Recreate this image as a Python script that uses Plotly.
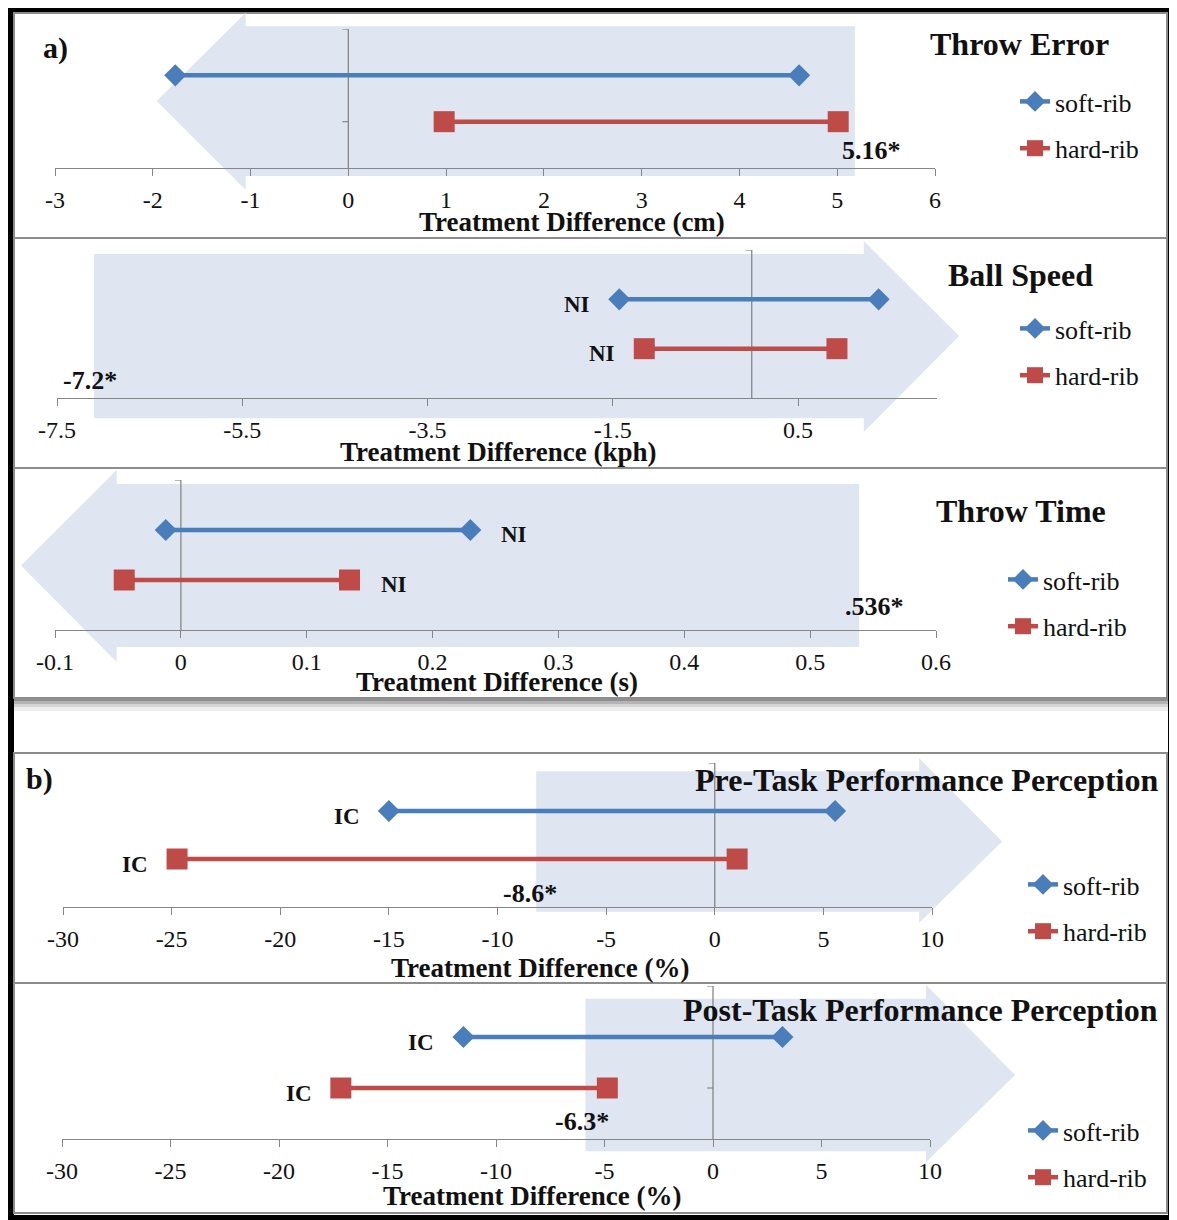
import plotly.graph_objects as go

W, H = 1177, 1220

# ---------------- data ----------------
panel_titles = ["Throw Error", "Ball Speed", "Throw Time",
                "Pre-Task Performance Perception", "Post-Task Performance Perception"]
axis_titles = ["Treatment Difference (cm)", "Treatment Difference (kph)",
               "Treatment Difference (s)", "Treatment Difference (%)",
               "Treatment Difference (%)"]
series_names = ["soft-rib", "hard-rib"]

soft_low = [-1.77, -1.43, -0.012, -15.0, -11.5]
soft_high = [4.61, 1.37, 0.230, 5.54, 3.20]
hard_low = [0.98, -1.16, -0.045, -24.75, -17.15]
hard_high = [5.01, 0.92, 0.134, 1.03, -4.87]

soft_notes = ["", "NI", "NI", "IC", "IC"]
hard_notes = ["", "NI", "NI", "IC", "IC"]

threshold_values = [5.16, -7.2, 0.536, -8.6, -6.3]
threshold_labels = ["5.16*", "-7.2*", ".536*", "-8.6*", "-6.3*"]

x_ranges = [[-3, 6], [-7.5, 2], [-0.1, 0.6], [-30, 10], [-30, 10]]
tick_values = [
    [-3, -2, -1, 0, 1, 2, 3, 4, 5, 6],
    [-7.5, -5.5, -3.5, -1.5, 0.5],
    [-0.1, 0, 0.1, 0.2, 0.3, 0.4, 0.5, 0.6],
    [-30, -25, -20, -15, -10, -5, 0, 5, 10],
    [-30, -25, -20, -15, -10, -5, 0, 5, 10],
]
tick_labels = [
    ["-3", "-2", "-1", "0", "1", "2", "3", "4", "5", "6"],
    ["-7.5", "-5.5", "-3.5", "-1.5", "0.5"],
    ["-0.1", "0", "0.1", "0.2", "0.3", "0.4", "0.5", "0.6"],
    ["-30", "-25", "-20", "-15", "-10", "-5", "0", "5", "10"],
    ["-30", "-25", "-20", "-15", "-10", "-5", "0", "5", "10"],
]

# ---------------- styles / layout geometry ----------------
FONT = "Liberation Serif"
BLUE = "#4A7EBB"
RED = "#BE4B48"
AXIS_GREY = "#868686"
ARROW_FILL = "#DFE6F1"
Y_RANGE = [0, 3]
Y_SOFT, Y_HARD = 2, 1
OFFSET = 8  # page margin in which the figure is displayed

# plot areas (pixels): left, right, top, bottom
plot_boxes = [(55, 935, 29, 168), (57, 937, 250, 398), (55, 936, 480, 630),
              (63, 932, 763, 907), (62, 930, 986, 1139)]
panel_boxes = [(14, 1167, 13, 238), (14, 1167, 238, 468), (14, 1167, 468, 698),
               (14, 1167, 753, 983), (14, 1167, 983, 1213)]
# arrow geometry (data units): flat edge, head base, tip, body y-span, head y-span
arrows = [
    dict(edge=5.18, base=-1.05, tip=-1.96, body=(-0.17, 3.06), head=(-0.47, 3.35)),
    dict(edge=-7.1, base=1.21, tip=2.24, body=(-0.41, 2.92), head=(-0.69, 3.18)),
    dict(edge=0.539, base=-0.051, tip=-0.127, body=(-0.34, 2.92), head=(-0.64, 3.20)),
    dict(edge=-8.22, base=9.41, tip=13.23, body=(-0.10, 2.83), head=(-0.33, 3.10)),
    dict(edge=-5.88, base=9.82, tip=13.92, body=(-0.24, 2.75), head=(-0.45, 3.02)),
]
note_side = ["", "left", "right", "left", "left"]
threshold_shift = [(19, 18), (5, 18), (19, 24), (2, 14), (6, 18)]
title_pos = [(1019, 44, "center"), (1020, 275, "center"), (1021, 511, "center"),
             (1160, 780, "right"), (1160, 1010, "right")]
axis_title_pos = [(572, 222), (498, 452), (497, 682), (540, 968), (532, 1196)]
legend_pos = [(1015, 99), (1015, 326), (1003, 577), (1023, 882), (1023, 1128)]


def px(xp):
    return (xp - OFFSET) / W


def py(yp):
    return 1 - (yp - OFFSET) / H


fig = go.Figure()
layout = dict(
    width=W, height=H,
    margin=dict(l=0, r=0, t=0, b=0, pad=0, autoexpand=False),
    paper_bgcolor="black", plot_bgcolor="rgba(0,0,0,0)",
    font=dict(family=FONT, color="#111111"),
    showlegend=True,
)
shapes = []
annotations = []

# outer white sheet and panel frames
shapes.append(dict(type="rect", xref="paper", yref="paper", x0=px(14), x1=px(1168),
                   y0=py(1215), y1=py(12), fillcolor="white", line=dict(width=0),
                   layer="below"))
for (l, r, t, b) in panel_boxes:
    shapes.append(dict(type="rect", xref="paper", yref="paper", x0=px(l), x1=px(r),
                       y0=py(b), y1=py(t), fillcolor="white",
                       line=dict(color="#8C8C8C", width=2), layer="below"))
# shadow band in the gap between the two groups
for (t, b, c) in [(698, 701, "#8E8E8E"), (701, 704, "#B4B4B4"), (704, 707, "#D4D4D4"),
                  (707, 711, "#EDEDED")]:
    shapes.append(dict(type="rect", xref="paper", yref="paper", x0=px(14), x1=px(1168),
                       y0=py(b), y1=py(t), fillcolor=c, line=dict(width=0), layer="below"))

for i in range(5):
    k = i + 1
    sfx = "" if k == 1 else str(k)
    xa, ya = "x" + sfx, "y" + sfx
    l, r, t, b = plot_boxes[i]
    x0r, x1r = x_ranges[i]

    layout["xaxis" + sfx] = dict(
        domain=[px(l), px(r)], range=x_ranges[i], anchor=ya, automargin=False,
        tickmode="array", tickvals=tick_values[i], ticktext=tick_labels[i],
        ticks="outside", ticklen=7, tickwidth=1.2, tickcolor=AXIS_GREY,
        showline=True, linecolor=AXIS_GREY, linewidth=1.3,
        showgrid=False, zeroline=False, ticklabelstandoff=3,
        tickfont=dict(family=FONT, size=24, color="#111111"),
        fixedrange=True,
    )
    layout["yaxis" + sfx] = dict(
        domain=[py(b), py(t)], range=Y_RANGE, anchor=xa, visible=False,
        automargin=False, fixedrange=True,
    )

    # background arrow
    a = arrows[i]

    def fx(v):
        return (v - x0r) / (x1r - x0r)

    def fy(v):
        return (v - Y_RANGE[0]) / (Y_RANGE[1] - Y_RANGE[0])

    bb, bt = a["body"]
    hb, ht = a["head"]
    tipy = (bb + bt) / 2
    pts = [(a["edge"], bb), (a["base"], bb), (a["base"], hb), (a["tip"], tipy),
           (a["base"], ht), (a["base"], bt), (a["edge"], bt)]
    path = "M " + " L ".join(f"{fx(xv):.5f},{fy(yv):.5f}" for xv, yv in pts) + " Z"
    shapes.append(dict(type="path", xref=xa + " domain", yref=ya + " domain", path=path,
                       fillcolor=ARROW_FILL, line=dict(width=0), layer="below"))

    # vertical zero line with its small category ticks
    shapes.append(dict(type="line", xref=xa, yref=ya + " domain", x0=0, x1=0, y0=0, y1=1,
                       line=dict(color=AXIS_GREY, width=1.3), layer="below"))
    for yv in (Y_HARD, Y_RANGE[1]):
        shapes.append(dict(type="line", xref=xa, yref=ya, xsizemode="pixel", xanchor=0,
                           x0=-6, x1=0, y0=yv, y1=yv,
                           line=dict(color=AXIS_GREY, width=1.2), layer="below"))

    # interval traces
    leg = "legend" if k == 1 else "legend" + str(k)
    fig.add_trace(go.Scatter(
        x=[soft_low[i], soft_high[i]], y=[Y_SOFT, Y_SOFT], xaxis=xa, yaxis=ya,
        mode="lines+markers", name=series_names[0], legend=leg,
        legendgroup=f"s{k}", line=dict(color=BLUE, width=4.5),
        marker=dict(symbol="diamond", size=17, color=BLUE), cliponaxis=False,
        hoverinfo="x+name"))
    fig.add_trace(go.Scatter(
        x=[hard_low[i], hard_high[i]], y=[Y_HARD, Y_HARD], xaxis=xa, yaxis=ya,
        mode="lines+markers", name=series_names[1], legend=leg,
        legendgroup=f"h{k}", line=dict(color=RED, width=4.5),
        marker=dict(symbol="square", size=21, color=RED), cliponaxis=False,
        hoverinfo="x+name"))

    lx, ly = legend_pos[i]
    layout[leg] = dict(
        x=px(lx), y=py(ly - 21), xanchor="left", yanchor="top",
        bgcolor="rgba(0,0,0,0)", borderwidth=0, tracegroupgap=10,
        font=dict(family=FONT, size=26, color="#111111"), itemwidth=30,
    )

    # NI / IC notes next to interval ends
    if soft_notes[i]:
        side = note_side[i]
        for (lo, hi, yv, txt) in [(soft_low[i], soft_high[i], Y_SOFT, soft_notes[i]),
                                  (hard_low[i], hard_high[i], Y_HARD, hard_notes[i])]:
            if side == "left":
                annotations.append(dict(x=lo, y=yv, xref=xa, yref=ya, text=f"<b>{txt}</b>",
                                        showarrow=False, xanchor="right", xshift=-27,
                                        yshift=-5, font=dict(family=FONT, size=23, color="#111")))
            else:
                annotations.append(dict(x=hi, y=yv, xref=xa, yref=ya, text=f"<b>{txt}</b>",
                                        showarrow=False, xanchor="left", xshift=29,
                                        yshift=-4, font=dict(family=FONT, size=23, color="#111")))

    # threshold label
    dxs, dys = threshold_shift[i]
    annotations.append(dict(x=threshold_values[i], y=0, xref=xa, yref=ya,
                            text=f"<b>{threshold_labels[i]}</b>", showarrow=False,
                            xanchor="center", yanchor="middle", xshift=dxs, yshift=dys,
                            font=dict(family=FONT, size=26, color="#111")))

    # panel title
    tx, ty, anc = title_pos[i]
    annotations.append(dict(x=px(tx), y=py(ty), xref="paper", yref="paper",
                            text=f"<b>{panel_titles[i]}</b>", showarrow=False,
                            xanchor=anc, yanchor="middle",
                            font=dict(family=FONT, size=32, color="#111")))
    # axis title
    ax_, ay_ = axis_title_pos[i]
    annotations.append(dict(x=px(ax_), y=py(ay_), xref="paper", yref="paper",
                            text=f"<b>{axis_titles[i]}</b>", showarrow=False,
                            xanchor="center", yanchor="middle",
                            font=dict(family=FONT, size=27, color="#111")))

# panel group letters
for (txt, xp_, yp_) in [("a)", 55, 48), ("b)", 39, 779)]:
    annotations.append(dict(x=px(xp_), y=py(yp_), xref="paper", yref="paper",
                            text=f"<b>{txt}</b>", showarrow=False, xanchor="center",
                            yanchor="middle", font=dict(family=FONT, size=30, color="#111")))

layout["shapes"] = shapes
layout["annotations"] = annotations
fig.update_layout(**layout)
fig.write_html("out.html")
